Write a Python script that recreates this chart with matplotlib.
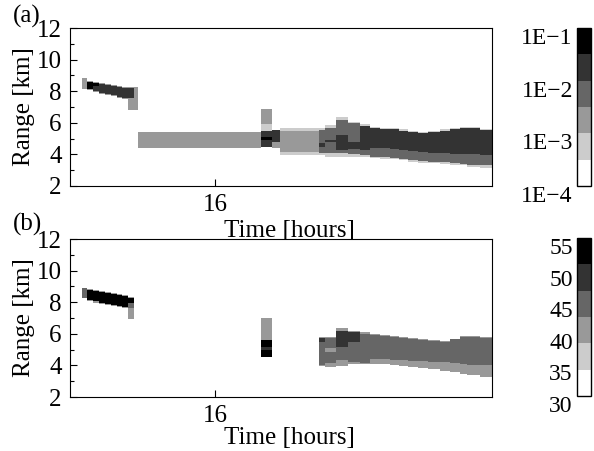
import numpy as np
import matplotlib
matplotlib.use('Agg')
import matplotlib.pyplot as plt
from matplotlib.colors import ListedColormap, BoundaryNorm

plt.rcParams['font.family'] = ['Liberation Serif', 'DejaVu Serif']
plt.rcParams['font.size'] = 18

# gray levels: 0 white ... 5 black
grays = ['#ffffff', '#cccccc', '#999999', '#666666', '#333333', '#000000']

# early cluster (time edges, bounds top->bottom, levels per layer)
c1_edges = [15.08, 15.12, 15.16, 15.20, 15.24, 15.28, 15.32, 15.36, 15.40, 15.44, 15.47]
a_c1_bounds = [[8.84, 8.14], [8.65, 8.58, 8.14, 8.08], [8.58, 8.52, 8.30, 8.01, 7.95],
               [8.52, 8.46, 7.89, 7.82], [8.46, 8.39, 7.82, 7.76], [8.39, 8.33, 7.76, 7.70],
               [8.33, 8.27, 7.63, 7.57], [8.27, 8.20, 7.57, 7.50], [8.27, 8.20, 7.57, 6.81],
               [8.27, 6.81]]
a_c1_levels = [[2], [2, 5, 2], [2, 5, 4, 2], [2, 4, 2], [2, 4, 2], [2, 4, 2],
               [2, 4, 2], [2, 4, 2], [2, 4, 2], [2]]
b_c1_bounds = [[8.90, 8.27], [8.84, 8.77, 8.14, 8.08], [8.77, 8.71, 8.05, 7.98],
               [8.71, 8.65, 7.95, 7.89], [8.65, 8.58, 7.89, 7.82], [8.58, 8.52, 7.82, 7.76],
               [8.52, 8.46, 7.76, 7.70], [8.46, 8.40, 7.70, 7.63], [8.33, 8.27, 7.95, 7.63, 6.94],
               [8.27, 8.27]]
b_c1_levels = [[3], [2, 5, 2], [2, 5, 2], [2, 5, 2], [2, 5, 2], [2, 5, 2],
               [2, 5, 2], [2, 5, 2], [2, 5, 3, 2], [2]]

# middle part
a_mid_edges = [15.47, 16.31, 16.39, 16.44, 16.71]
a_mid_bounds = [[5.42, 4.40], [6.87, 5.92, 5.48, 5.10, 4.91, 4.47], [5.55, 4.78, 4.40],
                [5.67, 5.48, 4.15, 3.96]]
a_mid_levels = [[2], [2, 1, 4, 5, 4], [4, 2], [1, 2, 1]]
b_mid_edges = [16.31, 16.39]
b_mid_bounds = [[7.00, 5.61, 5.16, 4.97, 4.53]]
b_mid_levels = [[2, 5, 4, 5]]

# main layer
main_edges = [16.71, 16.75, 16.83, 16.91, 16.99, 17.06, 17.13, 17.20, 17.26, 17.32,
              17.39, 17.46, 17.54, 17.61, 17.68, 17.73, 17.82, 17.90]
a_main_bounds = [[5.67, 5.54, 4.72, 4.47, 4.09, 3.96], [5.86, 5.67, 4.91, 4.78, 4.10, 3.83],
                 [6.37, 6.18, 5.23, 4.28, 4.09, 3.83], [6.05, 5.99, 4.78, 4.34, 4.02, 3.83],
                 [5.92, 5.80, 5.80, 4.28, 3.96, 3.83], [5.75, 5.67, 5.67, 4.40, 3.83, 3.77],
                 [5.70, 5.61, 5.61, 4.40, 3.83, 3.74], [5.67, 5.61, 5.61, 4.34, 3.77, 3.71],
                 [5.60, 5.50, 5.50, 4.30, 3.71, 3.64], [5.45, 5.40, 5.40, 4.20, 3.64, 3.52],
                 [5.42, 5.35, 5.35, 4.15, 3.60, 3.48], [5.48, 5.42, 5.42, 4.12, 3.55, 3.45],
                 [5.58, 5.50, 5.50, 4.09, 3.50, 3.40], [5.65, 5.58, 5.58, 4.05, 3.45, 3.36],
                 [5.73, 5.67, 5.67, 4.05, 3.40, 3.33], [5.75, 5.67, 5.67, 4.02, 3.33, 3.23],
                 [5.60, 5.54, 5.54, 3.96, 3.30, 3.14]]
a_main_levels = [1, 3, 4, 3, 1]
b_main_bounds = [[5.79, 5.73, 5.48, 4.02, 3.96], [5.80, 5.73, 5.73, 4.15, 3.90],
                 [6.37, 6.18, 5.16, 4.34, 3.96], [6.18, 6.11, 5.50, 4.21, 4.09],
                 [6.11, 5.99, 5.99, 4.15, 4.09], [5.99, 5.92, 5.92, 4.40, 4.09],
                 [5.92, 5.86, 5.86, 4.40, 4.09], [5.86, 5.80, 5.80, 4.34, 4.02],
                 [5.80, 5.73, 5.73, 4.34, 3.96], [5.73, 5.67, 5.67, 4.28, 3.90],
                 [5.67, 5.61, 5.61, 4.28, 3.83], [5.61, 5.54, 5.54, 4.21, 3.77],
                 [5.55, 5.48, 5.48, 4.21, 3.64], [5.70, 5.64, 5.64, 4.15, 3.58],
                 [5.86, 5.80, 5.80, 4.09, 3.45], [5.86, 5.80, 5.80, 4.02, 3.39],
                 [5.80, 5.73, 5.73, 4.02, 3.26]]
b_main_levels = [2, 4, 3, 2]
b_patch = [16.75, 16.83, 5.10, 4.85, 2]

t_grid = np.arange(15.0, 17.9, 0.0025) + 0.00125
r_grid = np.arange(2.0, 12.0, 0.01) + 0.005


def fill(grid, edges, bounds, levels):
    for i in range(len(edges) - 1):
        lv = levels[i] if isinstance(levels[i], list) else levels
        cols = (t_grid >= edges[i]) & (t_grid < edges[i + 1])
        for j in range(len(bounds[i]) - 1):
            rows = (r_grid < bounds[i][j]) & (r_grid >= bounds[i][j + 1])
            grid[np.ix_(rows, cols)] = lv[j]


a_grid = np.full((len(r_grid), len(t_grid)), np.nan)
fill(a_grid, c1_edges, a_c1_bounds, a_c1_levels)
fill(a_grid, a_mid_edges, a_mid_bounds, a_mid_levels)
fill(a_grid, main_edges, a_main_bounds, [a_main_levels] * 17)

b_grid = np.full((len(r_grid), len(t_grid)), np.nan)
fill(b_grid, c1_edges, b_c1_bounds, b_c1_levels)
fill(b_grid, b_mid_edges, b_mid_bounds, b_mid_levels)
fill(b_grid, main_edges, b_main_bounds, [b_main_levels] * 17)
fill(b_grid, b_patch[:2], [b_patch[2:4]], [[b_patch[4]]])

# level -> data value (bin centres)
a_bounds = 10 ** np.linspace(-4, -1, 7)
b_bounds = np.linspace(30, 55, 7)
a_vals = np.where(np.isnan(a_grid), np.nan, 10 ** (-4 + 0.5 * np.nan_to_num(a_grid) + 0.25))
b_vals = np.where(np.isnan(b_grid), np.nan, 30 + 25 / 6 * (np.nan_to_num(b_grid) + 0.5))

cmap = ListedColormap(grays)
cmap.set_bad((1, 1, 1, 0))

fig = plt.figure(figsize=(5.94, 4.51), dpi=100)
ax_a = fig.add_axes([0.1178, 0.5876, 0.7104, 0.3503])
ax_b = fig.add_axes([0.1178, 0.1197, 0.7104, 0.3503])
cax_a = fig.add_axes([0.9714, 0.5876, 0.0236, 0.3503])
cax_b = fig.add_axes([0.9714, 0.1220, 0.0236, 0.3503])

panels = [(ax_a, cax_a, a_vals, a_bounds, '(a)', 1.075, 2.5),
          (ax_b, cax_b, b_vals, b_bounds, '(b)', 1.095, -0.5)]
for ax, cax, vals, bnds, tag, ty, lpad in panels:
    norm = BoundaryNorm(bnds, 6)
    im = ax.imshow(np.ma.masked_invalid(vals), cmap=cmap, norm=norm, origin='lower',
                   extent=[15.0, 17.9, 2, 12], aspect='auto', interpolation='nearest')
    ax.set_xlim(15.0, 17.9)
    ax.set_ylim(2, 12)
    ax.set_yticks([2, 4, 6, 8, 10, 12])
    ax.set_yticks([3, 5, 7, 9, 11], minor=True)
    ax.set_xticks([16])
    ax.tick_params(direction='in', length=5, width=0.8, pad=6)
    ax.tick_params(which='minor', direction='in', length=3, width=0.8)
    ax.set_ylabel('Range [km]', labelpad=1)
    ax.set_xlabel('Time [hours]', labelpad=lpad)
    ax.xaxis.label.set_x(0.52)
    ax.text(-0.135, ty, tag, transform=ax.transAxes, ha='left', va='center')

    cb = fig.colorbar(im, cax=cax, boundaries=bnds)
    cb.outline.set_linewidth(1.0)
    cax.yaxis.set_ticks_position('left')
    cax.yaxis.set_label_position('left')
    cax.tick_params(length=0, pad=3, labelsize=17)
    cax.minorticks_off()

cb_a_ticks = [1e-4, 1e-3, 1e-2, 1e-1]
cb_a_labels = ['1E\u22124', '1E\u22123', '1E\u22122', '1E\u22121']
cb_b_ticks = [30, 35, 40, 45, 50, 55]
cax_a.set_yticks(cb_a_ticks)
cax_a.set_yticklabels(cb_a_labels)
cax_b.set_yticks(cb_b_ticks)
cax_b.set_yticklabels([str(v) for v in cb_b_ticks])
for cax in [cax_a, cax_b]:
    cax.minorticks_off()
    for lab in cax.get_yticklabels():
        lab.set_va('top')

fig.savefig('out.png', dpi=100)
